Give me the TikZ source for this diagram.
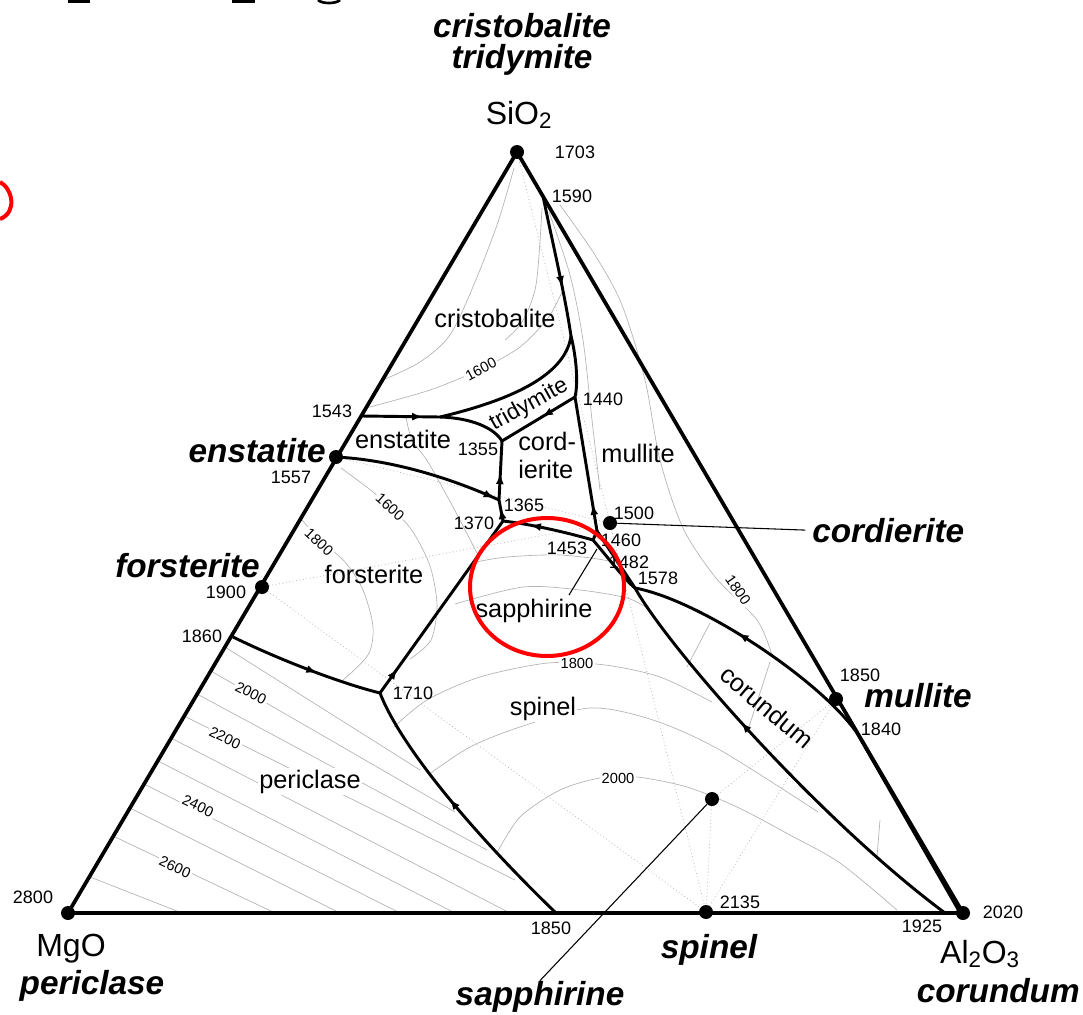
\documentclass[tikz,border=0pt]{standalone}
\usepackage{fontspec}
\setmainfont{Liberation Sans}
\usetikzlibrary{arrows.meta, decorations.markings}

\begin{document}
\begin{tikzpicture}[x=0.75pt, y=-0.75pt,
    sideline/.style={line width=2.8pt, line join=round},
    bound/.style={line width=2.2pt, line join=round},
    iso/.style={gray!60, line width=0.5pt},
    tie/.style={gray!55, dotted, line width=0.6pt},
    lead/.style={line width=0.8pt},
    pointdot/.style={circle, fill=black, inner sep=0pt, minimum size=10.5pt},
    num/.style={font=\fontsize{13.5}{16}\selectfont, inner sep=0pt},
    field/.style={font=\fontsize{19}{22}\selectfont, inner sep=0pt},
    mineral/.style={font=\fontsize{25}{29}\selectfont\bfseries\itshape, inner sep=0pt},
    oxide/.style={font=\fontsize{24}{28}\selectfont, inner sep=0pt},
    isolbl/.style={font=\fontsize{11}{13}\selectfont, inner sep=1.5pt, fill=white},
    flowmark/.style={postaction={decorate}, decoration={markings,
        mark=at position #1 with {\arrow{Latex[length=8pt,width=6pt]}}}},
  ]
  \useasboundingbox (0,0) rectangle (1083,1015);

  % cut-off bits at the border
  \fill (68,0) rectangle (90,3);
  \fill (232,0) rectangle (255,3);
  \draw[line width=2pt] (318,0) .. controls (322,4) and (336,4) .. (340,0);
  \draw[red, line width=3pt] (0,182) .. controls (12,188) and (18,212) .. (0,219);

  % corners and invariant points
  \coordinate (S) at (517,152);
  \coordinate (M) at (68,913);
  \coordinate (A) at (963,913);
  \coordinate (p1590) at (543,196);
  \coordinate (ptc) at (571,336);
  \coordinate (p1440) at (575,397);
  \coordinate (p1543) at (362,416);
  \coordinate (pct) at (440,417);
  \coordinate (p1355) at (502,441);
  \coordinate (En) at (336,457);
  \coordinate (p1365) at (499,500);
  \coordinate (p1370) at (503,521);
  \coordinate (p1460) at (597,531);
  \coordinate (p1453) at (593,540);
  \coordinate (p1578) at (635,588);
  \coordinate (p1840) at (857,733);
  \coordinate (Mu) at (836,699);
  \coordinate (p1710) at (380,693);
  \coordinate (p1860) at (233,637);
  \coordinate (p1850) at (556,913);
  \coordinate (p1925) at (945,913);
  \coordinate (Fo) at (262,587);
  \coordinate (Co) at (610,523);
  \coordinate (Sa) at (712,799);
  \coordinate (Sp) at (706,912);
  \coordinate (sapphtip) at (597,549);

  % compatibility lines
  \draw[tie] (S) -- (Co);
  \draw[tie] (En) -- (Co);
  \draw[tie] (Fo) -- (Co);
  \draw[tie] (Fo) -- (Sp);
  \draw[tie] (Co) -- (Sp);
  \draw[tie] (Sa) -- (Sp);
  \draw[tie] (Sa) -- (Mu);
  \draw[tie] (Sp) -- (Mu);

  % isotherms
  \draw[iso] plot[smooth] coordinates {(366,408) (430,390) (481,369) (520,347) (548,318) (562,292)};
  \draw[iso] plot[smooth] coordinates {(383,380) (420,362) (450,335) (475,282) (498,222) (514,168)};
  \draw[iso] plot[smooth] coordinates {(505,340) (522,322) (536,285) (542,208)};
  \draw[iso] plot[smooth] coordinates {(406,417) (412,440) (428,462) (453,507) (477,553)};
  \draw[iso] plot[smooth] coordinates {(341,468) (368,488) (392,508) (413,532) (430,566) (437,605) (431,640) (410,659)};
  \draw[iso] plot[smooth] coordinates {(302,520) (320,540) (345,562) (363,590) (373,627) (368,655) (343,680)};
  \draw[iso] plot[smooth] coordinates {(476,562) (507,557) (560,555) (613,562) (628,575)};
  \draw[iso] plot[smooth] coordinates {(455,604) (523,587) (580,590) (627,598) (647,608)};
  \draw[iso] plot[smooth] coordinates {(394,727) (427,700) (480,677) (548,663) (605,665) (660,677) (712,702)};
  \draw[iso] plot[smooth] coordinates {(428,775) (470,747) (520,727) (590,708) (653,720) (720,750) (818,812)};
  \draw[iso] plot[smooth] coordinates {(497,853) (520,817) (560,790) (600,778) (637,777) (687,787) (737,807) (790,835) (840,863) (897,910)};
  \draw[iso] plot[smooth] coordinates {(560,205) (595,255) (622,305) (645,380) (660,460) (683,528) (716,578) (757,620) (772,655)};
  \draw[iso] plot[smooth] coordinates {(549,212) (570,275) (583,340) (592,420) (600,490)};
  \draw[iso] (710,623) -- (687,667);
  \draw[iso] (770,662) -- (747,733);
  \draw[iso] (880,820) -- (877,857);
  \draw[iso] (225,647) -- (420,770);
  \draw[iso] (211,671) -- (455,812);
  \draw[iso] (197,694) -- (487,850);
  \draw[iso] (184,716) -- (515,880);
  \draw[iso] (171,738) -- (510,913);
  \draw[iso] (158,761) -- (455,913);
  \draw[iso] (144,784) -- (400,913);
  \draw[iso] (130,808) -- (340,913);
  \draw[iso] (113,836) -- (275,913);
  \draw[iso] (90,877) -- (182,913);

  \node[isolbl, rotate=28] (i1600c) at (481,369) {1600};
  \node[isolbl, rotate=-42] (i1600f) at (390,507) {1600};
  \node[isolbl, rotate=-43] (i1800f) at (319,542) {1800};
  \node[isolbl, rotate=-27] (i2000p) at (251,693) {2000};
  \node[isolbl, rotate=-26] (i2200p) at (225,738) {2200};
  \node[isolbl, rotate=-26] (i2400p) at (198,806) {2400};
  \node[isolbl, rotate=-25] (i2600p) at (175,867) {2600};
  \node[isolbl] (i1800s) at (577,663) {1800};
  \node[isolbl] (i2000s) at (618,778) {2000};
  \node[isolbl, rotate=-55] (i1800m) at (738,590) {1800};

  % field boundaries
  \draw[bound, flowmark=0.65] (p1590) .. controls (553,245) and (565,295) .. (ptc);
  \draw[bound] (ptc) .. controls (577,360) and (578,385) .. (p1440);
  \draw[bound] (ptc) .. controls (566,372) and (520,398) .. (pct);
  \draw[bound, flowmark=0.78] (p1543) -- (pct);
  \draw[bound] (pct) .. controls (472,418) and (494,428) .. (p1355);
  \draw[bound, flowmark=0.45] (p1440) -- (p1355);
  \draw[bound, flowmark=0.97] (En) .. controls (395,460) and (455,480) .. (p1365);
  \draw[bound, flowmark=0.45] (p1365) -- (p1355);
  \draw[bound, flowmark=0.6] (p1370) -- (p1365);
  \draw[bound, flowmark=0.7] (p1453) .. controls (565,532) and (530,524) .. (p1370);
  \draw[bound, flowmark=0.14] (p1710) -- (p1370);
  \draw[bound, flowmark=0.58] (p1860) .. controls (280,660) and (340,683) .. (p1710);
  \draw[bound, flowmark=0.55] (p1850) .. controls (470,830) and (400,745) .. (p1710);
  \draw[bound, flowmark=0.2] (p1460) -- (p1440);
  \draw[bound] (p1460) -- (p1453);
  \draw[bound] (p1460) -- (p1578);
  \draw[bound] (p1453) .. controls (610,560) and (625,580) .. (p1578);
  \draw[bound, flowmark=0.58] (p1840) .. controls (820,680) and (700,600) .. (p1578);
  \draw[bound, flowmark=0.62] (p1925) .. controls (820,820) and (670,650) .. (p1578);
  \draw[bound] (p1840) -- (959,911);

  % triangle
  \draw[sideline] (M) -- (S) -- (A) -- cycle;

  % compounds
  \node[pointdot] (dS) at (S) {};
  \node[pointdot] (dM) at (M) {};
  \node[pointdot] (dA) at (A) {};
  \node[pointdot] (dEn) at (En) {};
  \node[pointdot] (dFo) at (Fo) {};
  \node[pointdot] (dCo) at (Co) {};
  \node[pointdot] (dMu) at (Mu) {};
  \node[pointdot] (dSa) at (Sa) {};
  \node[pointdot] (dSp) at (Sp) {};

  % names
  \node[mineral, anchor=base] (tcrist) at (522,37) {cristobalite};
  \node[mineral, anchor=base] (ttrid) at (522,68) {tridymite};
  \node[oxide, anchor=base] (tsio) at (519,124) {SiO\textsubscript{2}};
  \node[oxide, anchor=base] (tmgo) at (71,956) {MgO};
  \node[mineral, anchor=base] (tper) at (92,994) {periclase};
  \node[oxide, anchor=base] (tal) at (980,963) {Al\textsubscript{2}O\textsubscript{3}};
  \node[mineral, anchor=base east] (tcor) at (1080,1002) {corundum};
  \node[mineral, anchor=base] (tspin) at (709,958) {spinel};
  \node[mineral, anchor=base] (tsapph) at (540,1005) {sapphirine};
  \node[mineral, anchor=base east] (tenst) at (326,462) {enstatite};
  \node[mineral, anchor=base east] (tfors) at (260,577) {forsterite};
  \node[mineral, anchor=base west] (tmull) at (864,707) {mullite};
  \node[mineral, anchor=base west] (tcord) at (812,542) {cordierite};

  \draw[lead] (dCo) -- ([xshift=-5pt]tcord.west);
  \draw[lead] (dSa) -- (tsapph.north);

  % fields
  \node[field, anchor=base] (fcrist) at (495,327) {cristobalite};
  \node[field, rotate=29, font=\fontsize{17}{20}\selectfont] (ftrid) at (529,405) {tridymite};
  \node[field, anchor=base] (fenst) at (403,448) {enstatite};
  \node[field, anchor=base west] (fcord1) at (518,450) {cord-};
  \node[field, anchor=base west] (fcord2) at (518,478) {ierite};
  \node[field, anchor=base] (fmull) at (638,462) {mullite};
  \node[field, anchor=base] (ffors) at (374,583) {forsterite};
  \node[field, anchor=base] (fsapph) at (534,617) {sapphirine};
  \node[field, anchor=base, fill=white, inner sep=1pt] (fspin) at (543,715) {spinel};
  \node[field, anchor=base, fill=white, inner sep=1pt] (fper) at (310,788) {periclase};
  \node[field, rotate=-40] (fcor) at (767,707) {corundum};
  \draw[lead] (sapphtip) -- (569,595);

  % temperatures
  \node[num] (n1703) at (575,152) {1703};
  \node[num] (n1590) at (572,196) {1590};
  \node[num] (n1543) at (332,411) {1543};
  \node[num] (n1557) at (291,477) {1557};
  \node[num] (n1900) at (226,592) {1900};
  \node[num] (n1860) at (202,636) {1860};
  \node[num] (n2800) at (33,897) {2800};
  \node[num] (n1355) at (478,449) {1355};
  \node[num] (n1440) at (603,399) {1440};
  \node[num] (n1365) at (524,505) {1365};
  \node[num] (n1370) at (474,523) {1370};
  \node[num] (n1500) at (634,513) {1500};
  \node[num] (n1460) at (621,540) {1460};
  \node[num] (n1453) at (567,548) {1453};
  \node[num] (n1482) at (629,562) {1482};
  \node[num] (n1578) at (658,578) {1578};
  \node[num] (n1710) at (413,693) {1710};
  \node[num] (n1850m) at (860,675) {1850};
  \node[num] (n1840) at (881,729) {1840};
  \node[num] (n1850b) at (551,928) {1850};
  \node[num] (n2135) at (740,902) {2135};
  \node[num] (n1925) at (922,926) {1925};
  \node[num] (n2020) at (1003,912) {2020};

  % highlight
  \draw[red, line width=3pt] (547,587) ellipse [x radius=57.75pt, y radius=51.75pt];
\end{tikzpicture}
\end{document}
